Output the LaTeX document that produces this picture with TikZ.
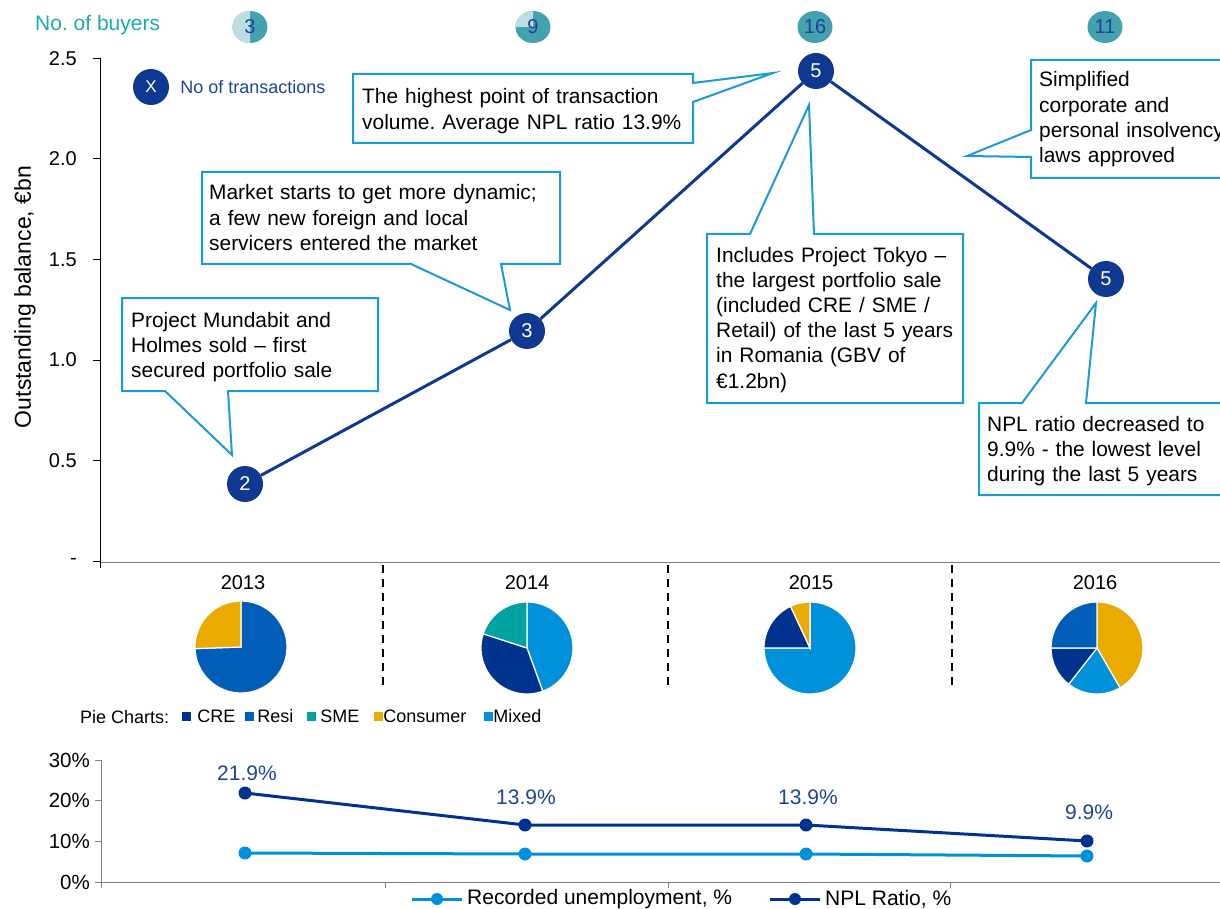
\documentclass[tikz,border=0pt]{standalone}
\usepackage{fontspec}
\setmainfont{Liberation Sans}
\usetikzlibrary{positioning}
\definecolor{navy}{HTML}{0F3891}
\definecolor{calloutblue}{HTML}{1B9AD6}
\definecolor{buyteal}{HTML}{44A1AF}
\definecolor{buylight}{HTML}{BEDDE3}
\definecolor{headteal}{HTML}{19ADA8}
\definecolor{labelblue}{HTML}{1F4496}
\definecolor{axisgray}{HTML}{808080}
\definecolor{cre}{HTML}{00338D}
\definecolor{resi}{HTML}{005EB8}
\definecolor{sme}{HTML}{00A3A1}
\definecolor{consumer}{HTML}{EAAA00}
\definecolor{mixed}{HTML}{0091DA}
\newcommand{\pieslice}[3]{\fill[#1,draw=white,line width=1.2pt] (0,0) -- (#2:46) arc[start angle=#2,end angle=#3,radius=46] -- cycle;}

\begin{document}
\frenchspacing
\begin{tikzpicture}[x=1pt,y=-1pt,
  note/.style={anchor=base west,inner sep=0pt,align=left,text width=420pt,font=\fontsize{20.9}{25.2}\selectfont},
  callout/.style={draw=calloutblue,line width=2pt,fill=white},
  dot/.style={circle,fill=navy,text=white,minimum size=36pt,inner sep=0pt,font=\fontsize{20}{20}\selectfont},
  tick/.style={anchor=east,inner sep=0pt,font=\fontsize{20}{20}\selectfont},
  year/.style={inner sep=0pt,font=\fontsize{20}{20}\selectfont},
  buyer/.style={text=labelblue,inner sep=0pt,font=\fontsize{20}{20}\selectfont},
  legbox/.style={minimum size=9pt,inner sep=0pt},
  legtext/.style={inner sep=0pt,font=\fontsize{18}{18}\selectfont},
  pct/.style={text=labelblue,inner sep=0pt,font=\fontsize{21}{21}\selectfont},
  trend/.style={navy,line width=3pt}]
  \useasboundingbox (0,0) rectangle (1220,909);
  \clip (0,0) rectangle (1220,909);

  % buyers row
  \node[text=headteal,anchor=west,inner sep=0pt,font=\fontsize{21}{21}\selectfont] (buyhead) at (35,25) {No. of buyers};
  \foreach \x in {250,533,815,1105}
    \fill[buyteal] (\x,27) ellipse[x radius=17.5,y radius=16];
  \begin{scope}[shift={(250,27)},yscale=-1]
    \fill[buylight] (0,0) -- (0,16) arc[start angle=90,end angle=270,x radius=17.5,y radius=16] -- cycle;
  \end{scope}
  \begin{scope}[shift={(533,27)},yscale=-1]
    \fill[buylight] (0,0) -- (0,16) arc[start angle=90,end angle=180,x radius=17.5,y radius=16] -- cycle;
  \end{scope}
  \node[buyer] (b13) at (250,27) {3};
  \node[buyer] (b14) at (533,27) {9};
  \node[buyer] (b15) at (815,27) {16};
  \node[buyer] (b16) at (1105,27) {11};

  % main chart axes
  \draw[line width=1pt] (100,58) -- (100,562);
  \draw[axisgray,line width=1pt] (100,562) -- (1220,562);
  \draw[line width=1pt] (100,562) -- (100,568);
  \foreach \v/\y [count=\i] in {2.5/58.5,2.0/159,1.5/259.5,1.0/360,0.5/460.5,-/561} {
    \draw[line width=1pt] (93,\y) -- (100,\y);
    \node[tick] (yt\i) at (77,\y) {\v};
  }
  \node[rotate=90,inner sep=0pt,font=\fontsize{23}{23}\selectfont] (ylab) at (25,297) {Outstanding balance, €bn};
  \foreach \x in {383,668,952}
    \draw[line width=2pt,dash pattern=on 8pt off 6pt] (\x,565) -- (\x,690);
  \foreach \x/\yr in {243/2013,527/2014,811/2015,1095/2016}
    \node[year] (yr\yr) at (\x,583) {\yr};

  % legend for transactions
  \node[dot,font=\fontsize{17}{17}\selectfont] (legx) at (151,87) {X};
  \node[right=11pt of legx,inner sep=0pt,text=labelblue,font=\fontsize{18}{18}\selectfont] (legxt) {No of transactions};

  % outstanding balance
  \node[dot] (p13) at (245,484) {2};
  \node[dot] (p14) at (527,331) {3};
  \node[dot] (p15) at (816,71) {5};
  \node[dot] (p16) at (1106,279) {5};
  \draw[trend] (p13) -- (p14) -- (p15) -- (p16);

  % callouts
  \coordinate (tipA) at (232,455);
  \coordinate (tipB) at (510,310);
  \coordinate (tipC) at (773,73);
  \coordinate (tipD) at (809,105);
  \coordinate (tipE) at (967,156);
  \coordinate (tipF) at (1096,303);
  \draw[callout] (122,298) -- (378,298) -- (378,391) -- (228,391) -- (tipA) -- (165,391) -- (122,391) -- cycle;
  \draw[callout] (202,172) -- (560,172) -- (560,264) -- (501,264) -- (tipB) -- (411,264) -- (202,264) -- cycle;
  \draw[callout] (353,74) -- (693,74) -- (693,83) -- (tipC) -- (693,102) -- (693,143) -- (353,143) -- cycle;
  \draw[callout] (707,234) -- (750,234) -- (tipD) -- (814,234) -- (963,234) -- (963,403) -- (707,403) -- cycle;
  \draw[callout] (1031,60) -- (1240,60) -- (1240,178) -- (1031,178) -- (1031,157) -- (tipE) -- (1031,130) -- cycle;
  \draw[callout] (979,403) -- (1022,403) -- (tipF) -- (1086,403) -- (1240,403) -- (1240,495) -- (979,495) -- cycle;
  \node[note] (mundabit) at (131,327) {Project Mundabit and\\Holmes sold -- first\\secured portfolio sale};
  \node[note] (dynamic) at (209,200) {Market starts to get more dynamic;\\a few new foreign and local\\servicers entered the market};
  \node[note] (highest) at (362,104) {The highest point of transaction\\volume. Average NPL ratio 13.9\%};
  \node[note] (tokyo) at (716,262) {Includes Project Tokyo --\\the largest portfolio sale\\(included CRE / SME /\\Retail) of the last 5 years\\in Romania (GBV of\\€1.2bn)};
  \node[note] (insolvency) at (1039,87) {Simplified\\corporate and\\personal insolvency\\laws approved};
  \node[note] (npldrop) at (987,431) {NPL ratio decreased to\\9.9\% - the lowest level\\during the last 5 years};

  % pie charts
  \begin{scope}[shift={(241,647)},yscale=-1]
    \pieslice{resi}{90}{-178}
    \pieslice{consumer}{-178}{-270}
  \end{scope}
  \begin{scope}[shift={(527,648)},yscale=-1]
    \pieslice{mixed}{90}{-70}
    \pieslice{cre}{-70}{-198}
    \pieslice{sme}{-198}{-270}
  \end{scope}
  \begin{scope}[shift={(810,648)},yscale=-1]
    \pieslice{mixed}{90}{-180}
    \pieslice{cre}{-180}{-245}
    \pieslice{consumer}{-245}{-270}
  \end{scope}
  \begin{scope}[shift={(1097,648)},yscale=-1]
    \pieslice{consumer}{90}{-60}
    \pieslice{mixed}{-60}{-128}
    \pieslice{cre}{-128}{-180}
    \pieslice{resi}{-180}{-270}
  \end{scope}

  % pie legend
  \node[legtext,anchor=west] (pielab) at (80,717) {Pie Charts:};
  \node[legbox,fill=cre] (sqcre) at (186,716) {};
  \node[legtext,right=6.5pt of sqcre] (txcre) {CRE};
  \node[legbox,fill=resi] (sqresi) at (249,716) {};
  \node[legtext,right=3.5pt of sqresi] (txresi) {Resi};
  \node[legbox,fill=sme] (sqsme) at (311,716) {};
  \node[legtext,right=4.5pt of sqsme] (txsme) {SME};
  \node[legbox,fill=consumer] (sqcons) at (378,716) {};
  \node[legtext,right=0.5pt of sqcons] (txcons) {Consumer};
  \node[legbox,fill=mixed] (sqmix) at (488,716) {};
  \node[legtext,right=0.5pt of sqmix] (txmix) {Mixed};

  % lower chart
  \draw[axisgray,line width=1pt] (101,760) -- (101,882) -- (1220,882);
  \foreach \v/\y [count=\i] in {30\%/760,20\%/800.5,10\%/841,0\%/882} {
    \draw[axisgray,line width=1pt] (95,\y) -- (101,\y);
    \node[tick,font=\fontsize{20.5}{20.5}\selectfont] (pt\i) at (90,\y) {\v};
  }
  \foreach \x in {101,385,668,950}
    \draw[axisgray,line width=1pt] (\x,882) -- (\x,888);
  \coordinate (n13) at (245,793);
  \coordinate (n14) at (525,825);
  \coordinate (n15) at (806,825);
  \coordinate (n16) at (1087,841);
  \coordinate (u13) at (245,853);
  \coordinate (u14) at (525,854);
  \coordinate (u15) at (806,854);
  \coordinate (u16) at (1087,856);
  \draw[mixed,line width=3pt] (u13) -- (u14) -- (u15) -- (u16);
  \draw[cre,line width=3pt] (n13) -- (n14) -- (n15) -- (n16);
  \foreach \p in {u13,u14,u15,u16}
    \fill[mixed] (\p) circle[radius=6.5];
  \foreach \p in {n13,n14,n15,n16}
    \fill[cre] (\p) circle[radius=6.5];
  \node[pct] (l13) at (247,773) {21.9\%};
  \node[pct] (l14) at (526,797) {13.9\%};
  \node[pct] (l15) at (808,797) {13.9\%};
  \node[pct] (l16) at (1089,812) {9.9\%};

  % lower legend
  \draw[mixed,line width=3pt] (412,899) -- (462,899);
  \fill[mixed] (437,899) circle[radius=6];
  \node[anchor=west,inner sep=0pt,font=\fontsize{21}{21}\selectfont] (legun) at (467,899) {Recorded unemployment, \%};
  \draw[cre,line width=3pt] (770,899) -- (820,899);
  \fill[cre] (795,899) circle[radius=6];
  \node[anchor=west,inner sep=0pt,font=\fontsize{21}{21}\selectfont] (legnpl) at (825,899) {NPL Ratio, \%};
\end{tikzpicture}
\end{document}
